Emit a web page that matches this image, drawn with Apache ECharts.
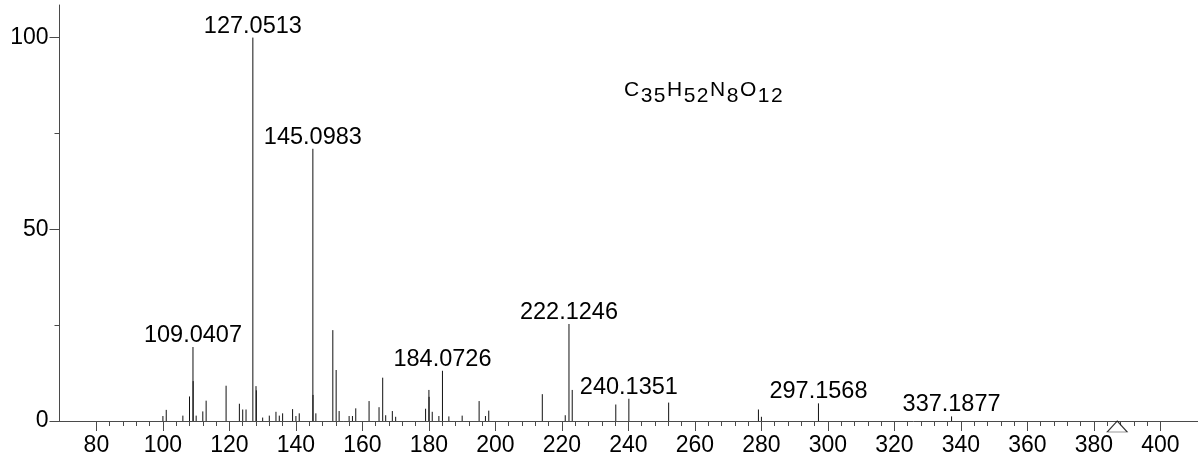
<!DOCTYPE html>
<html>
<head>
<meta charset="utf-8">
<title>MS/MS spectrum</title>
<script src="https://cdn.jsdelivr.net/npm/echarts@6/dist/echarts.min.js"></script>
<style>
  html, body { margin: 0; padding: 0; background: #fff; }
  #chart { width: 1198px; height: 462px; }
</style>
</head>
<body>
<div id="chart"></div>
<script>
// Fragment peaks: m/z and relative intensity (%)
const peakMz = [
  100.0, 101.0, 106.0, 108.0, 109.0407, 109.1, 110.0, 112.0, 113.0, 119.0,
  123.0, 124.0, 125.0, 127.0513, 128.0, 128.1, 130.0, 132.0, 134.0, 135.0,
  136.0, 139.0, 140.0, 141.0, 145.0983, 145.15, 146.0, 151.1, 152.1, 153.0,
  156.0, 157.0, 158.0, 162.0, 165.0, 166.1, 167.0, 169.0, 170.0, 179.0,
  180.0, 180.05, 181.0, 183.0, 184.0726, 186.0, 190.0, 195.1, 197.0, 198.0,
  214.1, 221.0, 222.1246, 223.1, 236.2, 240.1351, 252.1, 279.1, 280.0, 297.1568,
  337.1877
];
const peakIntensity = [
  1.3, 2.9, 1.4, 6.4, 19.3, 10.4, 1.4, 2.5, 5.3, 9.2,
  4.5, 3.0, 3.0, 100, 9.1, 8.0, 0.9, 1.4, 2.4, 1.4,
  2.0, 3.1, 1.3, 2.0, 71.0, 6.8, 2.0, 23.7, 13.3, 2.6,
  1.3, 1.3, 3.3, 5.2, 3.6, 11.3, 1.5, 2.6, 1.1, 3.2,
  8.1, 6.3, 2.4, 1.3, 13.1, 1.2, 1.4, 5.2, 1.3, 2.7,
  7.0, 1.5, 25.3, 8.1, 4.3, 5.8, 4.8, 3.0, 1.1, 4.6,
  1.2
];
// Peaks annotated with their accurate mass
const labelledMz = ['109.0407', '127.0513', '145.0983', '184.0726', '222.1246', '240.1351', '297.1568', '337.1877'];
// Precursor ion position
const precursorMz = [387.0];
// Axis ranges and tick ranges
const xRange = [68.9, 411.3];
const yRange = [0, 108.5];
const xTickRange = [80, 400];
const yTickRange = [0, 100];
// Molecular formula: element symbol and count
const formulaParts = [['C', '35'], ['H', '52'], ['N', '8'], ['O', '12']];

const FONT = '"Liberation Sans", Arial, Helvetica, sans-serif';
const AXIS_COLOR = '#4a4a4a';

// Plot frame in pixels
const plotLeft = 59.5, plotRight = 1198, plotTop = 5, plotBottom = 421;
const sx = (plotRight - plotLeft) / (xRange[1] - xRange[0]);
const sy = (plotBottom - plotTop) / (yRange[1] - yRange[0]);

const labelFor = peakMz.map(m => {
  const s = labelledMz.find(l => Math.abs(parseFloat(l) - m) < 1e-6);
  return s || '';
});

// Formula as rich text: one token per character, counts set as subscripts
const formulaText = formulaParts.map(p =>
  '{b|' + p[0] + '}' + p[1].split('').map(d => '{s|' + d + '}').join('')
).join('');

const chart = echarts.init(document.getElementById('chart'), null, { renderer: 'canvas' });

const option = {
  animation: false,
  backgroundColor: '#fff',
  grid: [
    // main plotting area
    { left: plotLeft, top: plotTop, width: plotRight - plotLeft, height: plotBottom - plotTop, outerBoundsMode: 'none' },
    // m/z ticks and labels (80..400)
    { left: plotLeft + (xTickRange[0] - xRange[0]) * sx, top: plotTop,
      width: (xTickRange[1] - xTickRange[0]) * sx, height: plotBottom - plotTop, outerBoundsMode: 'none' },
    // intensity ticks and labels (0..100)
    { left: plotLeft, top: plotBottom - (yTickRange[1] - yTickRange[0]) * sy,
      width: plotRight - plotLeft, height: (yTickRange[1] - yTickRange[0]) * sy, outerBoundsMode: 'none' }
  ],
  xAxis: [
    { gridIndex: 0, type: 'value', min: xRange[0], max: xRange[1],
      axisLine: { show: true, lineStyle: { color: AXIS_COLOR, width: 1 } },
      axisTick: { show: false }, axisLabel: { show: false }, splitLine: { show: false } },
    { gridIndex: 1, type: 'value', min: xTickRange[0], max: xTickRange[1], interval: 20,
      axisLine: { show: false },
      axisTick: { show: true, length: 10, lineStyle: { color: AXIS_COLOR } },
      minorTick: { show: true, splitNumber: 5, length: 5, lineStyle: { color: AXIS_COLOR } },
      axisLabel: { show: true, fontSize: 23, fontFamily: FONT, color: '#000', margin: 13 },
      splitLine: { show: false } },
    { gridIndex: 2, type: 'value', min: 0, max: 1, show: false }
  ],
  yAxis: [
    { gridIndex: 0, type: 'value', min: yRange[0], max: yRange[1],
      axisLine: { show: true, lineStyle: { color: AXIS_COLOR, width: 1 } },
      axisTick: { show: false }, axisLabel: { show: false }, splitLine: { show: false } },
    { gridIndex: 1, type: 'value', min: 0, max: 1, show: false },
    { gridIndex: 2, type: 'value', position: 'left', min: yTickRange[0], max: yTickRange[1], interval: 50,
      axisLine: { show: false },
      axisTick: { show: true, length: 10, lineStyle: { color: AXIS_COLOR } },
      minorTick: { show: true, splitNumber: 2, length: 5, lineStyle: { color: AXIS_COLOR } },
      axisLabel: { show: true, fontSize: 23, fontFamily: FONT, color: '#000', margin: 11 },
      splitLine: { show: false } }
  ],
  series: [
    {
      type: 'custom',
      xAxisIndex: 0, yAxisIndex: 0,
      clip: false,
      data: peakMz.map((m, i) => [m, peakIntensity[i]]),
      renderItem: function (params, api) {
        const mz = api.value(0), inten = api.value(1);
        const top = api.coord([mz, inten]);
        const base = api.coord([mz, 0]);
        const children = [{
          type: 'line',
          shape: { x1: top[0], y1: base[1], x2: top[0], y2: top[1] },
          style: { stroke: '#111', lineWidth: 1 }
        }];
        const text = labelFor[params.dataIndex];
        if (text) {
          children.push({
            type: 'text',
            style: {
              text: text, x: top[0], y: top[1] + 0.5,
              align: 'center', verticalAlign: 'bottom',
              font: '23.5px ' + FONT, fill: '#000'
            }
          });
        }
        return { type: 'group', children: children };
      }
    },
    {
      type: 'scatter',
      xAxisIndex: 0, yAxisIndex: 0,
      clip: false,
      silent: true,
      data: precursorMz.map(m => [m, 0]),
      symbol: 'triangle',
      symbolSize: [20, 11],
      symbolOffset: [0, 5.5],
      itemStyle: { color: '#fff', borderColor: '#000', borderWidth: 1 },
      z: 5
    }
  ],
  graphic: [{
    type: 'text',
    left: 624,
    top: 80,
    style: {
      text: formulaText,
      rich: {
        b: { fontSize: 21, fontFamily: FONT, fill: '#000', padding: [0, 1.5, 6, 0] },
        s: { fontSize: 21, fontFamily: FONT, fill: '#000', padding: [6, 1.5, 0, 0] }
      }
    }
  }]
};

chart.setOption(option);
</script>
</body>
</html>
